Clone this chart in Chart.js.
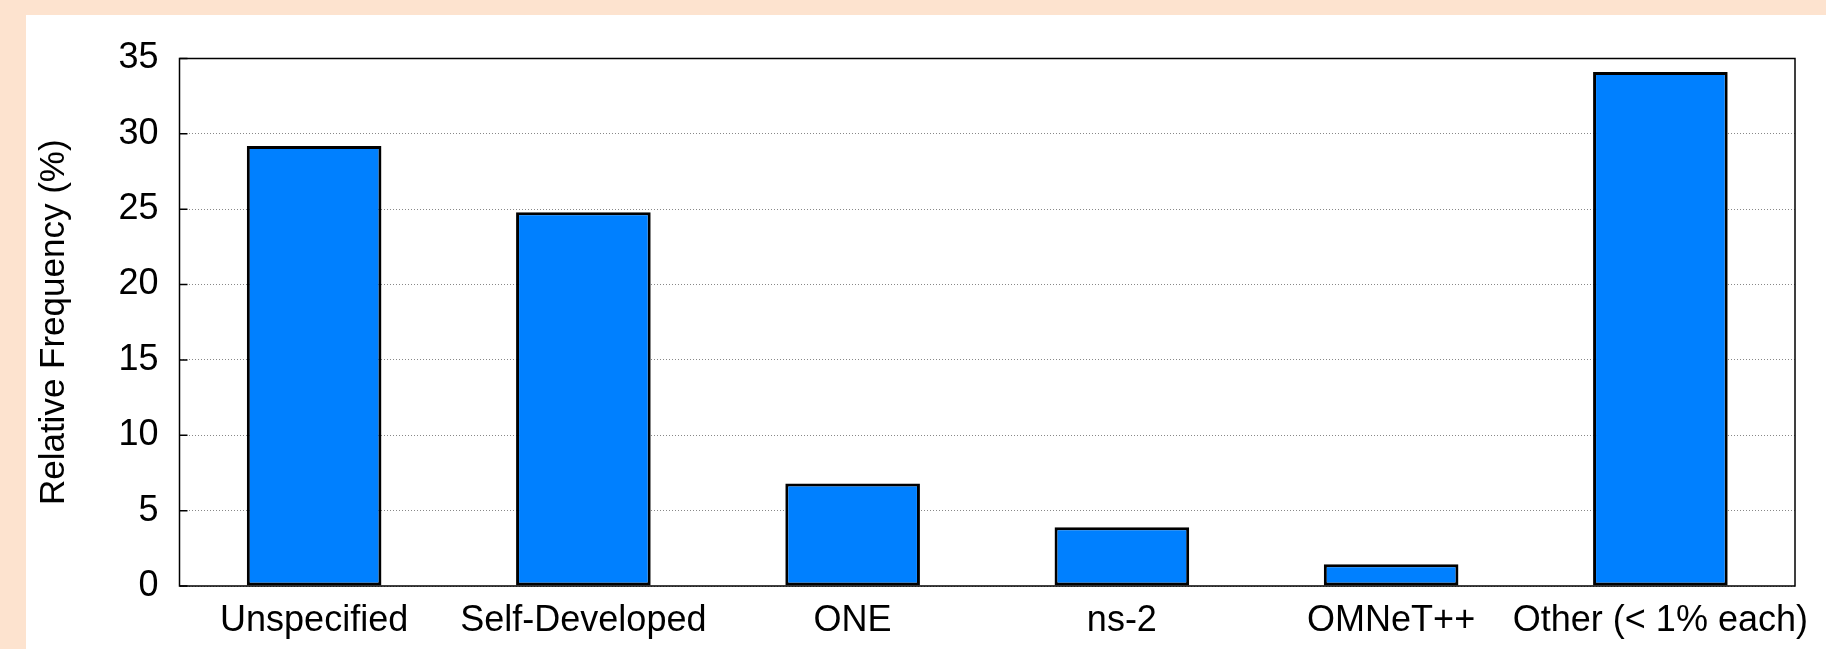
<!DOCTYPE html>
<html>
<head>
<meta charset="utf-8">
<script src="https://cdn.jsdelivr.net/npm/chart.js@4"></script>
<style>
  html, body { margin: 0; padding: 0; background: #fde3cf; }
  #wrap { position: absolute; left: 26px; top: 15px; width: 1800px; height: 634px; background: #fff; }
</style>
</head>
<body>
<div id="wrap"><canvas id="chart" width="1800" height="634"></canvas></div>
<script>
const categories = ["Unspecified", "Self-Developed", "ONE", "ns-2", "OMNeT++", "Other (< 1% each)"];
const frequency = [29.2, 24.8, 6.8, 3.9, 1.45, 34.1];
const yTicks = [0, 5, 10, 15, 20, 25, 30, 35];

const font = "'Liberation Sans', Arial, Helvetica, sans-serif";

// gnuplot-like frame with short inward ticks on the left axis
const framePlugin = {
    id: "frame",
    afterDatasetsDraw(chart) {
        const { ctx, chartArea: a, scales } = chart;
        ctx.save();
        ctx.strokeStyle = "#000";
        ctx.lineWidth = 1.5;
        ctx.beginPath();
        yTicks.forEach(v => {
            const y = scales.y.getPixelForValue(v);
            ctx.moveTo(a.left, y);
            ctx.lineTo(a.left + 8, y);
        });
        ctx.stroke();
        ctx.strokeRect(a.left, a.top, a.right - a.left, a.bottom - a.top);
        ctx.restore();
    }
};

new Chart(document.getElementById("chart"), {
    type: "bar",
    data: {
        labels: categories,
        datasets: [{
            data: frequency,
            backgroundColor: "#0080ff",
            borderColor: "#000",
            borderWidth: 3,
            borderSkipped: false,
            barPercentage: 0.5,
            categoryPercentage: 1
        }]
    },
    options: {
        responsive: false,
        animation: false,
        layout: { padding: { top: 43.5, right: 31, left: 0, bottom: 0 } },
        plugins: { legend: { display: false }, tooltip: { enabled: false } },
        scales: {
            x: {
                grid: { display: false, drawTicks: false },
                border: { display: false },
                ticks: { color: "#000", font: { family: font, size: 36 }, padding: 13, maxRotation: 0, autoSkip: false },
                afterFit(scale) { scale.height = 63; }
            },
            y: {
                min: 0,
                max: 35,
                afterBuildTicks(scale) { scale.ticks = yTicks.map(v => ({ value: v })); },
                grid: { color: "#888", lineWidth: 1, drawTicks: false },
                border: { display: false, dash: [1, 2] },
                ticks: { color: "#000", font: { family: font, size: 36 }, padding: 21 },
                title: {
                    display: true,
                    text: "Relative Frequency (%)",
                    color: "#000",
                    font: { family: font, size: 35 },
                    padding: { top: 7, bottom: 0 }
                },
                afterFit(scale) { scale.width = 153.5; }
            }
        }
    },
    plugins: [framePlugin]
});
</script>
</body>
</html>
